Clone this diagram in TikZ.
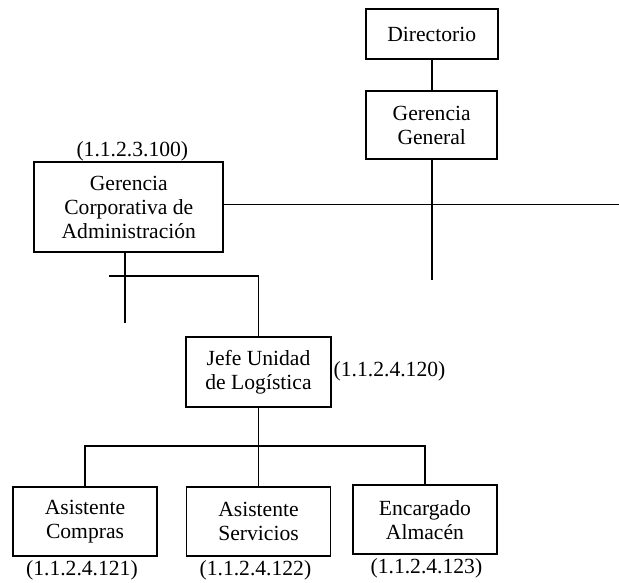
\documentclass[tikz,border=0pt]{standalone}
\usepackage{fontspec}
\setmainfont{Liberation Serif}
\begin{document}
\begin{tikzpicture}[x=0.5pt,y=-0.5pt,
  box/.style={draw,line width=0.95pt,inner sep=0pt,align=center,font=\fontsize{10.8}{12}\selectfont},
  code/.style={inner sep=0pt,font=\fontsize{10.8}{12}\selectfont},
  conn/.style={line width=0.95pt}]
\useasboundingbox (0,0) rectangle (619,582);
\node[box,minimum width=66pt,minimum height=25pt] (dir) at (431.7,34) {Directorio};
\node[box,minimum width=65.5pt,minimum height=34.2pt] (gg) at (431.7,125) {Gerencia\\General};
\node[box,minimum width=94.5pt,minimum height=45pt] (gca) at (128.8,207.3) {Gerencia\\Corporativa de\\Administración};
\node[box,minimum width=72.3pt,minimum height=35pt] (jefe) at (258.5,372.3) {Jefe Unidad\\de Logística};
\node[box,minimum width=72pt,minimum height=34.5pt] (ac) at (85,521.2) {Asistente\\Compras};
\node[box,minimum width=72pt,minimum height=34.5pt] (as) at (258.5,521.2) {Asistente\\Servicios};
\node[box,minimum width=71.8pt,minimum height=34.5pt] (ea) at (424.9,519.8) {Encargado\\Almacén};
\node[code] (lgca) at (132.3,151.7) {(1.1.2.3.100)};
\node[code] (ljefe) at (389.5,371.7) {(1.1.2.4.120)};
\node[code] (lac) at (81.9,570) {(1.1.2.4.121)};
\node[code] (las) at (255.4,570) {(1.1.2.4.122)};
\node[code] (lea) at (426.4,568.3) {(1.1.2.4.123)};
\coordinate (ggend) at (431.7,280);
\coordinate (hR) at (619,204.5);
\coordinate (vL) at (125,322.7);
\coordinate (hL) at (109.3,276);
\coordinate (bus) at (0,446);
\draw[conn] (dir) -- (gg);
\draw[conn] (gg.south) -- (ggend);
\draw[conn] (gca.east |- hR) -- (hR);
\draw[conn] (gca.south -| vL) -- (vL);
\draw[conn] (hL) -| (jefe.north);
\draw[conn] (jefe.south) -- (as.north);
\draw[conn] (ac.north) -- (ac.north |- bus) -- (ea.north |- bus) -- (ea.north);
\end{tikzpicture}
\end{document}
